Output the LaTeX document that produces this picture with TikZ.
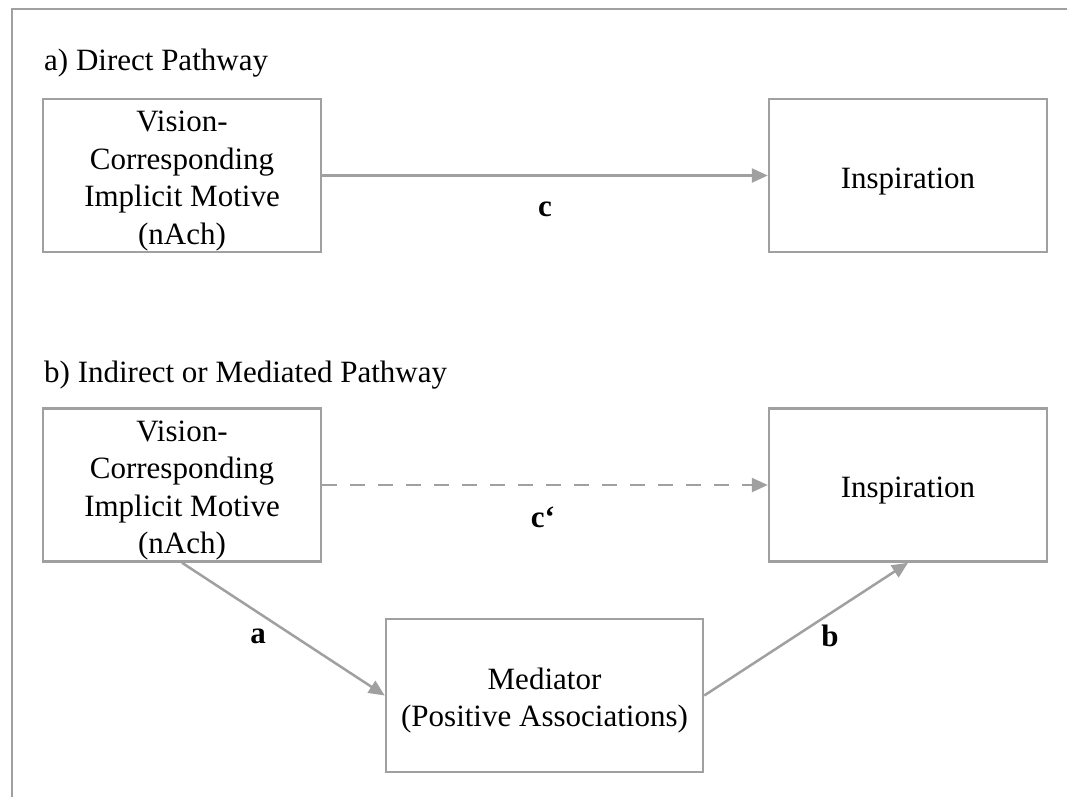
\documentclass[tikz,border=0pt]{standalone}
\usepackage{fontspec}
\setmainfont{Liberation Serif}
\usetikzlibrary{arrows.meta}
\definecolor{linegray}{HTML}{A0A0A0}
% extra room above the first line, so box texts sit a little low
\newcommand\boxstrut{\rule{0pt}{32pt}}
\begin{document}
\begin{tikzpicture}[x=1pt,y=-1pt,
  box/.style={draw=linegray, line width=2.5pt, rectangle, align=center,
    minimum height=153pt, inner sep=0pt,
    font=\fontsize{31}{37.5}\selectfont},
  heading/.style={anchor=base west, inner sep=0pt, font=\fontsize{31}{37.5}\selectfont},
  path/.style={draw=linegray, line width=2.5pt, -{Triangle[length=16pt,width=14pt]}},
  coef/.style={font=\fontsize{31}{37.5}\selectfont\bfseries, inner sep=0pt}
]
\useasboundingbox (0,0) rectangle (1067,796);
% outer frame (open towards the right and bottom edges)
\draw[linegray, line width=2.5pt] (1080,9) -- (12,9) -- (12,810);

% a) direct pathway
\node[heading] (ha) at (44,70) {a) Direct Pathway};
\node[box, minimum width=278pt] (m1) at (182,175.5)
  {\boxstrut Vision-\\Corresponding\\Implicit Motive\\(nAch)};
\node[box, minimum width=278pt] (i1) at (908,175.5) {\boxstrut Inspiration};
\draw[path] (m1.east) -- (i1.west);
\node[coef] (lc) at (545,209) {c};

% b) indirect or mediated pathway
\node[heading] (hb) at (44,382) {b) Indirect or Mediated Pathway};
\node[box, minimum width=278pt] (m2) at (182,485)
  {\boxstrut Vision-\\Corresponding\\Implicit Motive\\(nAch)};
\node[box, minimum width=278pt] (i2) at (908,485) {\boxstrut Inspiration};
\node[box, minimum width=317pt] (med) at (544.5,695.5)
  {\boxstrut Mediator\\(Positive Associations)};
\draw[path, dash pattern=on 15pt off 13pt] (m2.east) -- (i2.west);
\draw[path] (m2.south) -- (med.west);
\draw[path] (med.east) -- (i2.south);
\node[coef] (lcp) at (543,517) {c‘};
\node[coef] (la) at (258,636) {a};
\node[coef] (lb) at (830,636) {b};
\end{tikzpicture}
\end{document}
